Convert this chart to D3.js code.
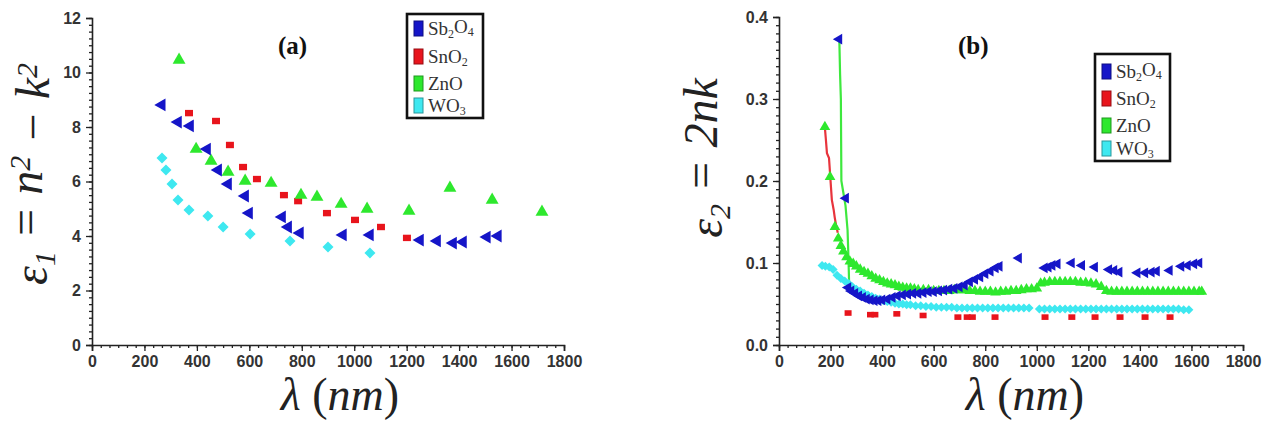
<!DOCTYPE html>
<html>
<head>
<meta charset="utf-8">
<script src="https://cdn.jsdelivr.net/npm/d3@7"></script>
<style>
  body { margin: 0; background: #fff; }
  svg { display: block; }
  .tick text { font-family: "Liberation Sans", Arial, sans-serif; font-weight: bold; font-size: 16px; fill: #333; }
  .axis path, .axis line { stroke: #222; }
</style>
</head>
<body>
<svg id="chart" width="1266" height="426"></svg>
<script>
// Dielectric constants of four oxides vs wavelength, two panels

// ticks
const xTicks = [0, 200, 400, 600, 800, 1000, 1200, 1400, 1600, 1800];
const yTicksA = [0, 2, 4, 6, 8, 10, 12];
const yTicksB = [0, 0.1, 0.2, 0.3, 0.4];

// legend names ("_" marks subscript)
const names = ['Sb_2O_4', 'SnO_2', 'ZnO', 'WO_3'];
const colors = ['#1515c8', '#e8141c', '#2ee82e', '#3ee8f0'];

// panel (a): eps1 = n^2 - k^2   [nm, value]
const sbA = [[266, 8.81], [328, 8.18], [374, 8.04], [439, 7.19], [481, 6.42], [519, 5.91], [584, 5.47], [599, 4.84],
  [725, 4.70], [748, 4.33], [793, 4.11], [957, 4.04], [1060, 4.04], [1251, 3.85], [1316, 3.82], [1377, 3.74],
  [1415, 3.78], [1506, 3.96], [1548, 4.00]];
const snA = [[370, 8.51], [473, 8.22], [526, 7.34], [576, 6.53], [629, 6.09], [732, 5.50], [786, 5.28], [896, 4.84],
  [1003, 4.59], [1102, 4.33], [1201, 3.93]];
const znA = [[332, 10.46], [397, 7.19], [454, 6.75], [519, 6.35], [584, 6.02], [683, 5.94], [797, 5.50], [858, 5.43],
  [950, 5.17], [1049, 4.99], [1209, 4.92], [1365, 5.76], [1526, 5.32], [1716, 4.88]];
const woA = [[267, 6.86], [282, 6.42], [305, 5.91], [328, 5.32], [370, 4.95], [442, 4.73], [500, 4.33], [603, 4.07],
  [755, 3.82], [900, 3.60], [1060, 3.38]];

// panel (b): eps2 = 2nk   [nm, value]
const sbB = [[233, 0.373], [259, 0.179], [268, 0.070], [280, 0.066], [295, 0.063], [310, 0.060], [325, 0.058],
  [340, 0.056], [355, 0.055], [370, 0.054], [385, 0.054], [400, 0.055], [420, 0.056], [440, 0.058], [460, 0.060],
  [480, 0.061], [500, 0.062], [520, 0.063], [540, 0.063], [560, 0.064], [580, 0.065], [600, 0.065], [620, 0.066],
  [640, 0.067], [660, 0.068], [680, 0.069], [700, 0.071], [720, 0.073], [740, 0.077], [760, 0.080], [780, 0.083],
  [800, 0.087], [820, 0.090], [840, 0.094], [855, 0.096], [930, 0.106], [1030, 0.094], [1045, 0.095], [1060, 0.097],
  [1080, 0.099], [1135, 0.100], [1175, 0.097], [1225, 0.095], [1280, 0.092], [1300, 0.091], [1320, 0.089],
  [1390, 0.088], [1420, 0.088], [1445, 0.089], [1465, 0.090], [1515, 0.091], [1560, 0.096], [1585, 0.097],
  [1610, 0.099], [1630, 0.100]];
const snB = [[268, 0.039], [355, 0.037], [372, 0.037], [457, 0.038], [559, 0.036], [694, 0.034], [730, 0.034],
  [750, 0.034], [838, 0.034], [1032, 0.034], [1136, 0.034], [1226, 0.034], [1323, 0.034], [1420, 0.034], [1517, 0.034]];
const znB = [[178, 0.266], [198, 0.205], [217, 0.144], [230, 0.130], [240, 0.121], [250, 0.114], [262, 0.107],
  [275, 0.102], [288, 0.099], [300, 0.096], [315, 0.092], [330, 0.089], [345, 0.087], [360, 0.084], [375, 0.081],
  [390, 0.079], [405, 0.077], [420, 0.075], [435, 0.074], [450, 0.073], [465, 0.071], [480, 0.070], [495, 0.069],
  [510, 0.069], [525, 0.068], [540, 0.067], [560, 0.067], [580, 0.067], [600, 0.066], [620, 0.066], [640, 0.066],
  [660, 0.066], [680, 0.067], [700, 0.067], [720, 0.067], [740, 0.066], [760, 0.066], [780, 0.065], [800, 0.065],
  [820, 0.065], [840, 0.064], [860, 0.065], [880, 0.065], [900, 0.066], [920, 0.066], [940, 0.067], [960, 0.068],
  [980, 0.068], [1000, 0.069], [1015, 0.075], [1030, 0.076], [1050, 0.077], [1070, 0.077], [1090, 0.077],
  [1110, 0.077], [1130, 0.077], [1150, 0.077], [1170, 0.076], [1190, 0.076], [1210, 0.075], [1230, 0.074],
  [1250, 0.071], [1270, 0.066], [1290, 0.065], [1310, 0.065], [1330, 0.065], [1350, 0.065], [1370, 0.065],
  [1390, 0.065], [1410, 0.065], [1430, 0.065], [1450, 0.065], [1470, 0.065], [1490, 0.065], [1510, 0.065],
  [1530, 0.065], [1550, 0.065], [1570, 0.065], [1590, 0.065], [1610, 0.065], [1630, 0.065], [1640, 0.065]];
const woB = [[167, 0.097], [180, 0.096], [195, 0.095], [210, 0.092], [225, 0.085], [240, 0.081], [255, 0.078],
  [270, 0.075], [285, 0.071], [300, 0.068], [315, 0.066], [330, 0.063], [345, 0.061], [360, 0.059], [375, 0.057],
  [390, 0.056], [405, 0.054], [420, 0.053], [435, 0.052], [450, 0.051], [465, 0.050], [480, 0.050], [495, 0.049],
  [510, 0.049], [530, 0.048], [550, 0.048], [570, 0.047], [590, 0.047], [610, 0.046], [630, 0.046], [650, 0.046],
  [670, 0.046], [690, 0.045], [710, 0.045], [730, 0.045], [750, 0.045], [770, 0.045], [790, 0.045], [810, 0.045],
  [830, 0.045], [850, 0.045], [870, 0.045], [890, 0.045], [910, 0.045], [930, 0.045], [950, 0.045], [970, 0.045],
  [1010, 0.044], [1030, 0.044], [1050, 0.044], [1070, 0.044], [1090, 0.044], [1110, 0.044], [1130, 0.044],
  [1150, 0.044], [1170, 0.044], [1190, 0.044], [1210, 0.044], [1230, 0.044], [1250, 0.044], [1270, 0.044],
  [1290, 0.044], [1310, 0.044], [1330, 0.044], [1350, 0.044], [1370, 0.044], [1390, 0.044], [1410, 0.044],
  [1430, 0.044], [1450, 0.044], [1470, 0.044], [1490, 0.044], [1510, 0.044], [1530, 0.044], [1550, 0.044],
  [1570, 0.043], [1590, 0.043]];
// steep connecting lines near the absorption edge
const snEdgeB = [[178, 0.265], [182, 0.250], [186, 0.234], [194, 0.228], [200, 0.200], [205, 0.177], [212, 0.165],
  [216, 0.156], [222, 0.145], [228, 0.137]];
const znEdgeB = [[234, 0.373], [237, 0.330], [240, 0.300], [241, 0.250], [242, 0.200], [250, 0.185], [258, 0.170],
  [266, 0.140], [270, 0.100], [272, 0.075]];

const svg = d3.select('#chart');

// draw one marker set
function drawMarkers(g, data, x, y, shape, color, s) {
  const sel = g.append('g').selectAll('path').data(data).enter().append('path')
    .attr('fill', color);
  if (shape === 'left') {
    sel.attr('d', d3.symbol(d3.symbolTriangle, s * s * 0.5)())
      .attr('transform', d => `translate(${x(d[0])},${y(d[1])}) rotate(-90)`);
  } else if (shape === 'up') {
    sel.attr('d', d3.symbol(d3.symbolTriangle, s * s * 0.5)())
      .attr('transform', d => `translate(${x(d[0])},${y(d[1])})`);
  } else if (shape === 'diamond') {
    sel.attr('d', d3.symbol(d3.symbolSquare, s * s * 0.5)())
      .attr('transform', d => `translate(${x(d[0])},${y(d[1])}) rotate(45)`);
  } else {
    sel.attr('d', `M${-s / 2},${-s * 0.4}h${s}v${s * 0.8}h${-s}z`)
      .attr('transform', d => `translate(${x(d[0])},${y(d[1])})`);
  }
}

// text with "_x" subscripts and "^x" superscripts
function richText(t, str, subSize) {
  const parts = str.match(/[_^].|[^_^]+/g);
  let shift = 0;
  parts.forEach(p => {
    let dy = -shift, txt = p, size = null;
    if (p[0] === '_') { txt = p[1]; dy += 0.28; size = subSize; shift = 0.28; }
    else if (p[0] === '^') { txt = p[1]; dy += -0.4; size = subSize; shift = -0.4; }
    else shift = 0;
    const ts = t.append('tspan').attr('dy', dy + 'em').text(txt);
    if (size) ts.attr('font-size', size);
  });
}

function legend(x0, y0, w, h, rowY) {
  const g = svg.append('g');
  g.append('rect').attr('x', x0).attr('y', y0).attr('width', w).attr('height', h)
    .attr('fill', '#fff').attr('stroke', '#111').attr('stroke-width', 2.6);
  names.forEach((n, i) => {
    g.append('rect').attr('x', x0 + 7).attr('y', rowY[i] - 8).attr('width', 9).attr('height', 15)
      .attr('fill', colors[i]).attr('stroke', d3.color(colors[i]).darker(1.2)).attr('stroke-width', 1);
    const t = g.append('text').attr('x', x0 + 21).attr('y', rowY[i] + 6)
      .attr('font-family', '"Liberation Serif", "Times New Roman", serif')
      .attr('font-size', 19).attr('fill', '#333');
    richText(t, n, 12);
  });
}

function panel(cfg) {
  const x = d3.scaleLinear().domain([0, 1800]).range([cfg.x0, cfg.x1]);
  const y = d3.scaleLinear().domain(cfg.yDom).range([345, cfg.yTop]);

  // minor ticks
  svg.append('g').attr('class', 'axis').attr('transform', 'translate(0,345)')
    .call(d3.axisBottom(x).tickValues(d3.range(0, 1800.1, 200 / 6)).tickSize(3).tickFormat(''))
    .call(g => g.select('.domain').remove());
  svg.append('g').attr('class', 'axis').attr('transform', `translate(${cfg.x0},0)`)
    .call(d3.axisLeft(y).tickValues(d3.range(cfg.yDom[0], cfg.yDom[1] + 1e-9, cfg.yMinor)).tickSize(3).tickFormat(''))
    .call(g => g.select('.domain').remove());

  // major axes
  svg.append('g').attr('class', 'axis').attr('transform', 'translate(0,345)')
    .call(d3.axisBottom(x).tickValues(xTicks).tickSize(6).tickPadding(5).tickFormat(d3.format('d')))
    .call(g => g.select('.domain').attr('stroke-width', 1.6));
  svg.append('g').attr('class', 'axis').attr('transform', `translate(${cfg.x0},0)`)
    .call(d3.axisLeft(y).tickValues(cfg.yTicks).tickSize(6).tickPadding(5).tickFormat(cfg.fmt))
    .call(g => g.select('.domain').attr('stroke-width', 1.6));
  svg.selectAll('.axis .tick line').attr('stroke-width', 1.3);

  // edge lines
  const line = d3.line().x(d => x(d[0])).y(d => y(d[1]));
  (cfg.edges || []).forEach(e => {
    svg.append('path').attr('d', line(e.data)).attr('fill', 'none')
      .attr('stroke', e.color).attr('stroke-width', 2.2);
  });

  const g = svg.append('g');
  const s = cfg.ms;
  drawMarkers(g, cfg.wo, x, y, 'diamond', colors[3], s.wo);
  drawMarkers(g, cfg.sn, x, y, 'square', colors[1], s.sn);
  drawMarkers(g, cfg.zn, x, y, 'up', colors[2], s.zn);
  drawMarkers(g, cfg.sb, x, y, 'left', colors[0], s.sb);

  // panel tag
  svg.append('text').attr('x', cfg.tagX).attr('y', 54)
    .attr('font-family', '"Liberation Serif", serif').attr('font-weight', 'bold')
    .attr('font-size', 25).attr('fill', '#111').text(cfg.tag);

  // axis titles
  const xl = svg.append('text').attr('x', (cfg.x0 + cfg.x1) / 2 + cfg.xlShift).attr('y', 410)
    .attr('text-anchor', 'middle').attr('font-family', '"Liberation Serif", serif')
    .attr('font-size', 46).attr('fill', '#222');
  xl.append('tspan').attr('font-style', 'italic').text('λ');
  xl.append('tspan').text(' (');
  xl.append('tspan').attr('font-style', 'italic').text('nm');
  xl.append('tspan').text(')');

  const yl = svg.append('text')
    .attr('transform', `translate(${cfg.ylX},${cfg.ylY}) rotate(-90)`)
    .attr('text-anchor', 'middle').attr('font-family', '"Liberation Serif", serif')
    .attr('font-style', 'italic').attr('font-size', 48).attr('fill', '#222');
  richText(yl, cfg.ylabel, 30);
}

panel({
  x0: 92, x1: 564, yDom: [0, 12], yTop: 18, yTicks: yTicksA, yMinor: 0.25, fmt: d3.format('d'),
  sb: sbA, sn: snA, zn: znA, wo: woA,
  ms: { sb: 12, sn: 8, zn: 12, wo: 11 },
  tag: '(a)', tagX: 278, xlShift: 12, ylX: 47, ylY: 174, ylabel: 'ε_1 = n^2 − k^2'
});
legend(407, 14, 76, 104, [29, 57, 84, 106]);

panel({
  x0: 779, x1: 1243, yDom: [0, 0.4], yTop: 17, yTicks: yTicksB, yMinor: 0.01, fmt: d3.format('.1f'),
  sb: sbB, sn: snB, zn: znB, wo: woB,
  ms: { sb: 10, sn: 7, zn: 10, wo: 9 },
  edges: [{ data: snEdgeB, color: '#e8343c' }, { data: znEdgeB, color: '#3ee83e' }],
  tag: '(b)', tagX: 958, xlShift: 14, ylX: 722, ylY: 158, ylabel: 'ε_2 = 2nk'
});
legend(1095, 54, 75, 107, [72, 99, 126, 149]);
</script>
</body>
</html>
